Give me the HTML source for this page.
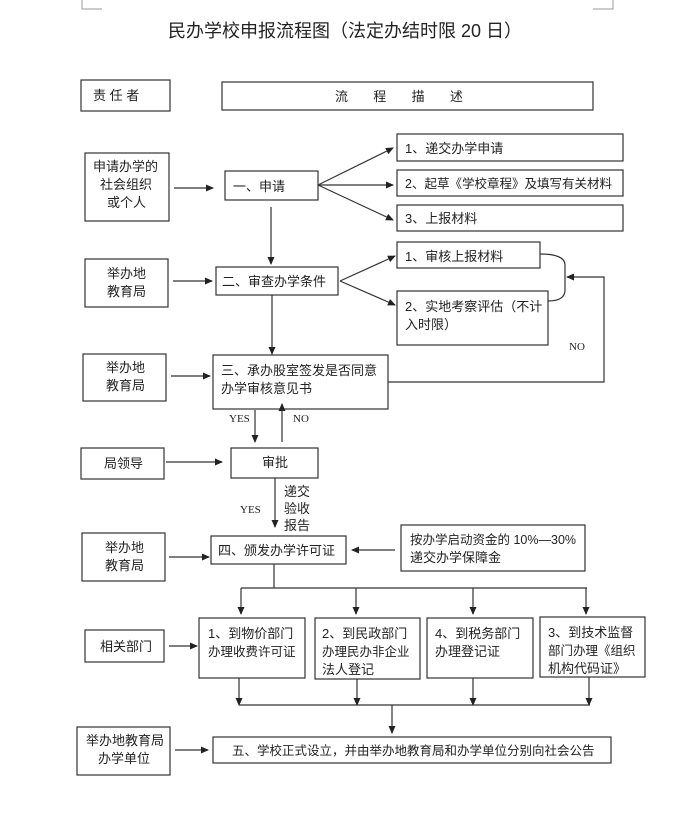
<!DOCTYPE html>
<html><head><meta charset="utf-8"><style>
body{margin:0;background:#fff}
svg text{font-family:"Liberation Sans","Noto Sans CJK SC",sans-serif;fill:#222}
</style></head><body>
<svg width="690" height="817" viewBox="0 0 690 817" xmlns="http://www.w3.org/2000/svg">
<defs><marker id="a" markerWidth="8" markerHeight="8" refX="7" refY="4" orient="auto" markerUnits="userSpaceOnUse"><path d="M0,0.5 L8,4 L0,7.5z" fill="#222"/></marker></defs>
<g stroke="#999" fill="none" stroke-width="1"><path d="M82,0V9H102"/><path d="M613,0V9H593"/></g>
<text x="345" y="37" font-size="18" text-anchor="middle">民办学校申报流程图（法定办结时限 20 日）</text>
<g fill="none" stroke="#333" stroke-width="1.2">
<rect x="81" y="80" width="89" height="31"/><rect x="222" y="82" width="371" height="28"/>
<rect x="85" y="153" width="84" height="68"/><rect x="225" y="171" width="93" height="29"/>
<rect x="397" y="134" width="226" height="27"/><rect x="397" y="170" width="226" height="26"/><rect x="397" y="205" width="226" height="26"/>
<rect x="85" y="259" width="83" height="48"/><rect x="216" y="267" width="122" height="28"/>
<rect x="397" y="242" width="143" height="26"/><rect x="397" y="291" width="151" height="54"/>
<rect x="213" y="355" width="175" height="54"/><rect x="83" y="354" width="83" height="47"/>
<rect x="81" y="448" width="83" height="31"/><rect x="231" y="448" width="87" height="30"/>
<rect x="82" y="533" width="83" height="48"/><rect x="211" y="536" width="135" height="28"/><rect x="401" y="525" width="184" height="46"/>
<rect x="199" y="618" width="106" height="60"/><rect x="315" y="618" width="105" height="61"/><rect x="427" y="618" width="106" height="60"/><rect x="540" y="617" width="105" height="60"/>
<rect x="85" y="630" width="79" height="32"/>
<rect x="213" y="737" width="398" height="26"/><rect x="77" y="727" width="93" height="48"/>
</g>
<g stroke="#333" stroke-width="1.2" fill="none" marker-end="url(#a)">
<path d="M174,188H213"/><path d="M318,185L393,148"/><path d="M318,185H393"/><path d="M318,185L393,220"/>
<path d="M271,207V264"/><path d="M173,281H212"/><path d="M340,281L395,256"/><path d="M340,281L395,305"/>
<path d="M272,295V354"/><path d="M171,376H210"/><path d="M388,382H604V277H567"/>
<path d="M255,410V442"/><path d="M282,442V404"/>
<path d="M166,462H222"/><path d="M275,478V527"/>
<path d="M169,557H209"/><path d="M395,550H352"/>
<path d="M241,588V614"/><path d="M356,588V614"/><path d="M473,588V614"/><path d="M586,588V614"/>
<path d="M169,646H197"/>
<path d="M239,678V705"/><path d="M357,679V705"/><path d="M473,678V705"/><path d="M589,677V705"/>
<path d="M392,705V733"/><path d="M175,750H208"/>
</g>
<g stroke="#333" stroke-width="1.2" fill="none">
<path d="M274,564V588"/><path d="M241,588H587"/><path d="M239,705H590"/>
<path d="M540,254Q565,254 565,265V290Q565,301 548,301"/>
</g>
<g font-size="13">
<text x="93" y="100">责  任  者</text>
<text x="335" y="101" xml:space="preserve">流       程       描       述</text>
<text x="93" y="171">申请办学的</text><text x="100" y="189">社会组织</text><text x="107" y="207">或个人</text>
<text x="233" y="191">一、申请</text>
<text x="405" y="153">1、递交办学申请</text><text x="405" y="188" font-size="12.5">2、起草《学校章程》及填写有关材料</text><text x="405" y="223">3、上报材料</text>
<text x="107" y="278">举办地</text><text x="107" y="296">教育局</text>
<text x="222" y="286">二、审查办学条件</text>
<text x="405" y="261">1、审核上报材料</text>
<text x="405" y="311">2、实地考察评估（不计</text><text x="405" y="329">入时限）</text>
<text x="106" y="372">举办地</text><text x="106" y="390">教育局</text>
<text x="221" y="375">三、承办股室签发是否同意</text><text x="221" y="393">办学审核意见书</text>
<text x="104" y="468">局领导</text><text x="262" y="467">审批</text>
<text x="284" y="496">递交</text><text x="284" y="513">验收</text><text x="284" y="530">报告</text>
<text x="105" y="552">举办地</text><text x="105" y="570">教育局</text>
<text x="218" y="555">四、颁发办学许可证</text>
<text x="410" y="544" font-size="12.5">按办学启动资金的 10%—30%</text><text x="410" y="562">递交办学保障金</text>
<text x="208" y="638">1、到物价部门</text><text x="208" y="656" font-size="12.5">办理收费许可证</text>
<text x="322" y="638">2、到民政部门</text><text x="322" y="656" font-size="12.5">办理民办非企业</text><text x="322" y="674">法人登记</text>
<text x="435" y="638">4、到税务部门</text><text x="435" y="656">办理登记证</text>
<text x="548" y="637">3、到技术监督</text><text x="548" y="655" font-size="12.5">部门办理《组织</text><text x="548" y="673">机构代码证》</text>
<text x="100" y="651">相关部门</text>
<text x="232" y="755" font-size="12.5">五、学校正式设立，并由举办地教育局和办学单位分别向社会公告</text>
<text x="86" y="745">举办地教育局</text><text x="98" y="763">办学单位</text>
</g>
<g font-size="11">
<text x="229" y="422" style="font-family:'Liberation Serif',serif">YES</text>
<text x="293" y="422" style="font-family:'Liberation Serif',serif">NO</text>
<text x="240" y="513" style="font-family:'Liberation Serif',serif">YES</text>
<text x="569" y="350" style="font-family:'Liberation Serif',serif">NO</text>
</g>
</svg>
</body></html>
